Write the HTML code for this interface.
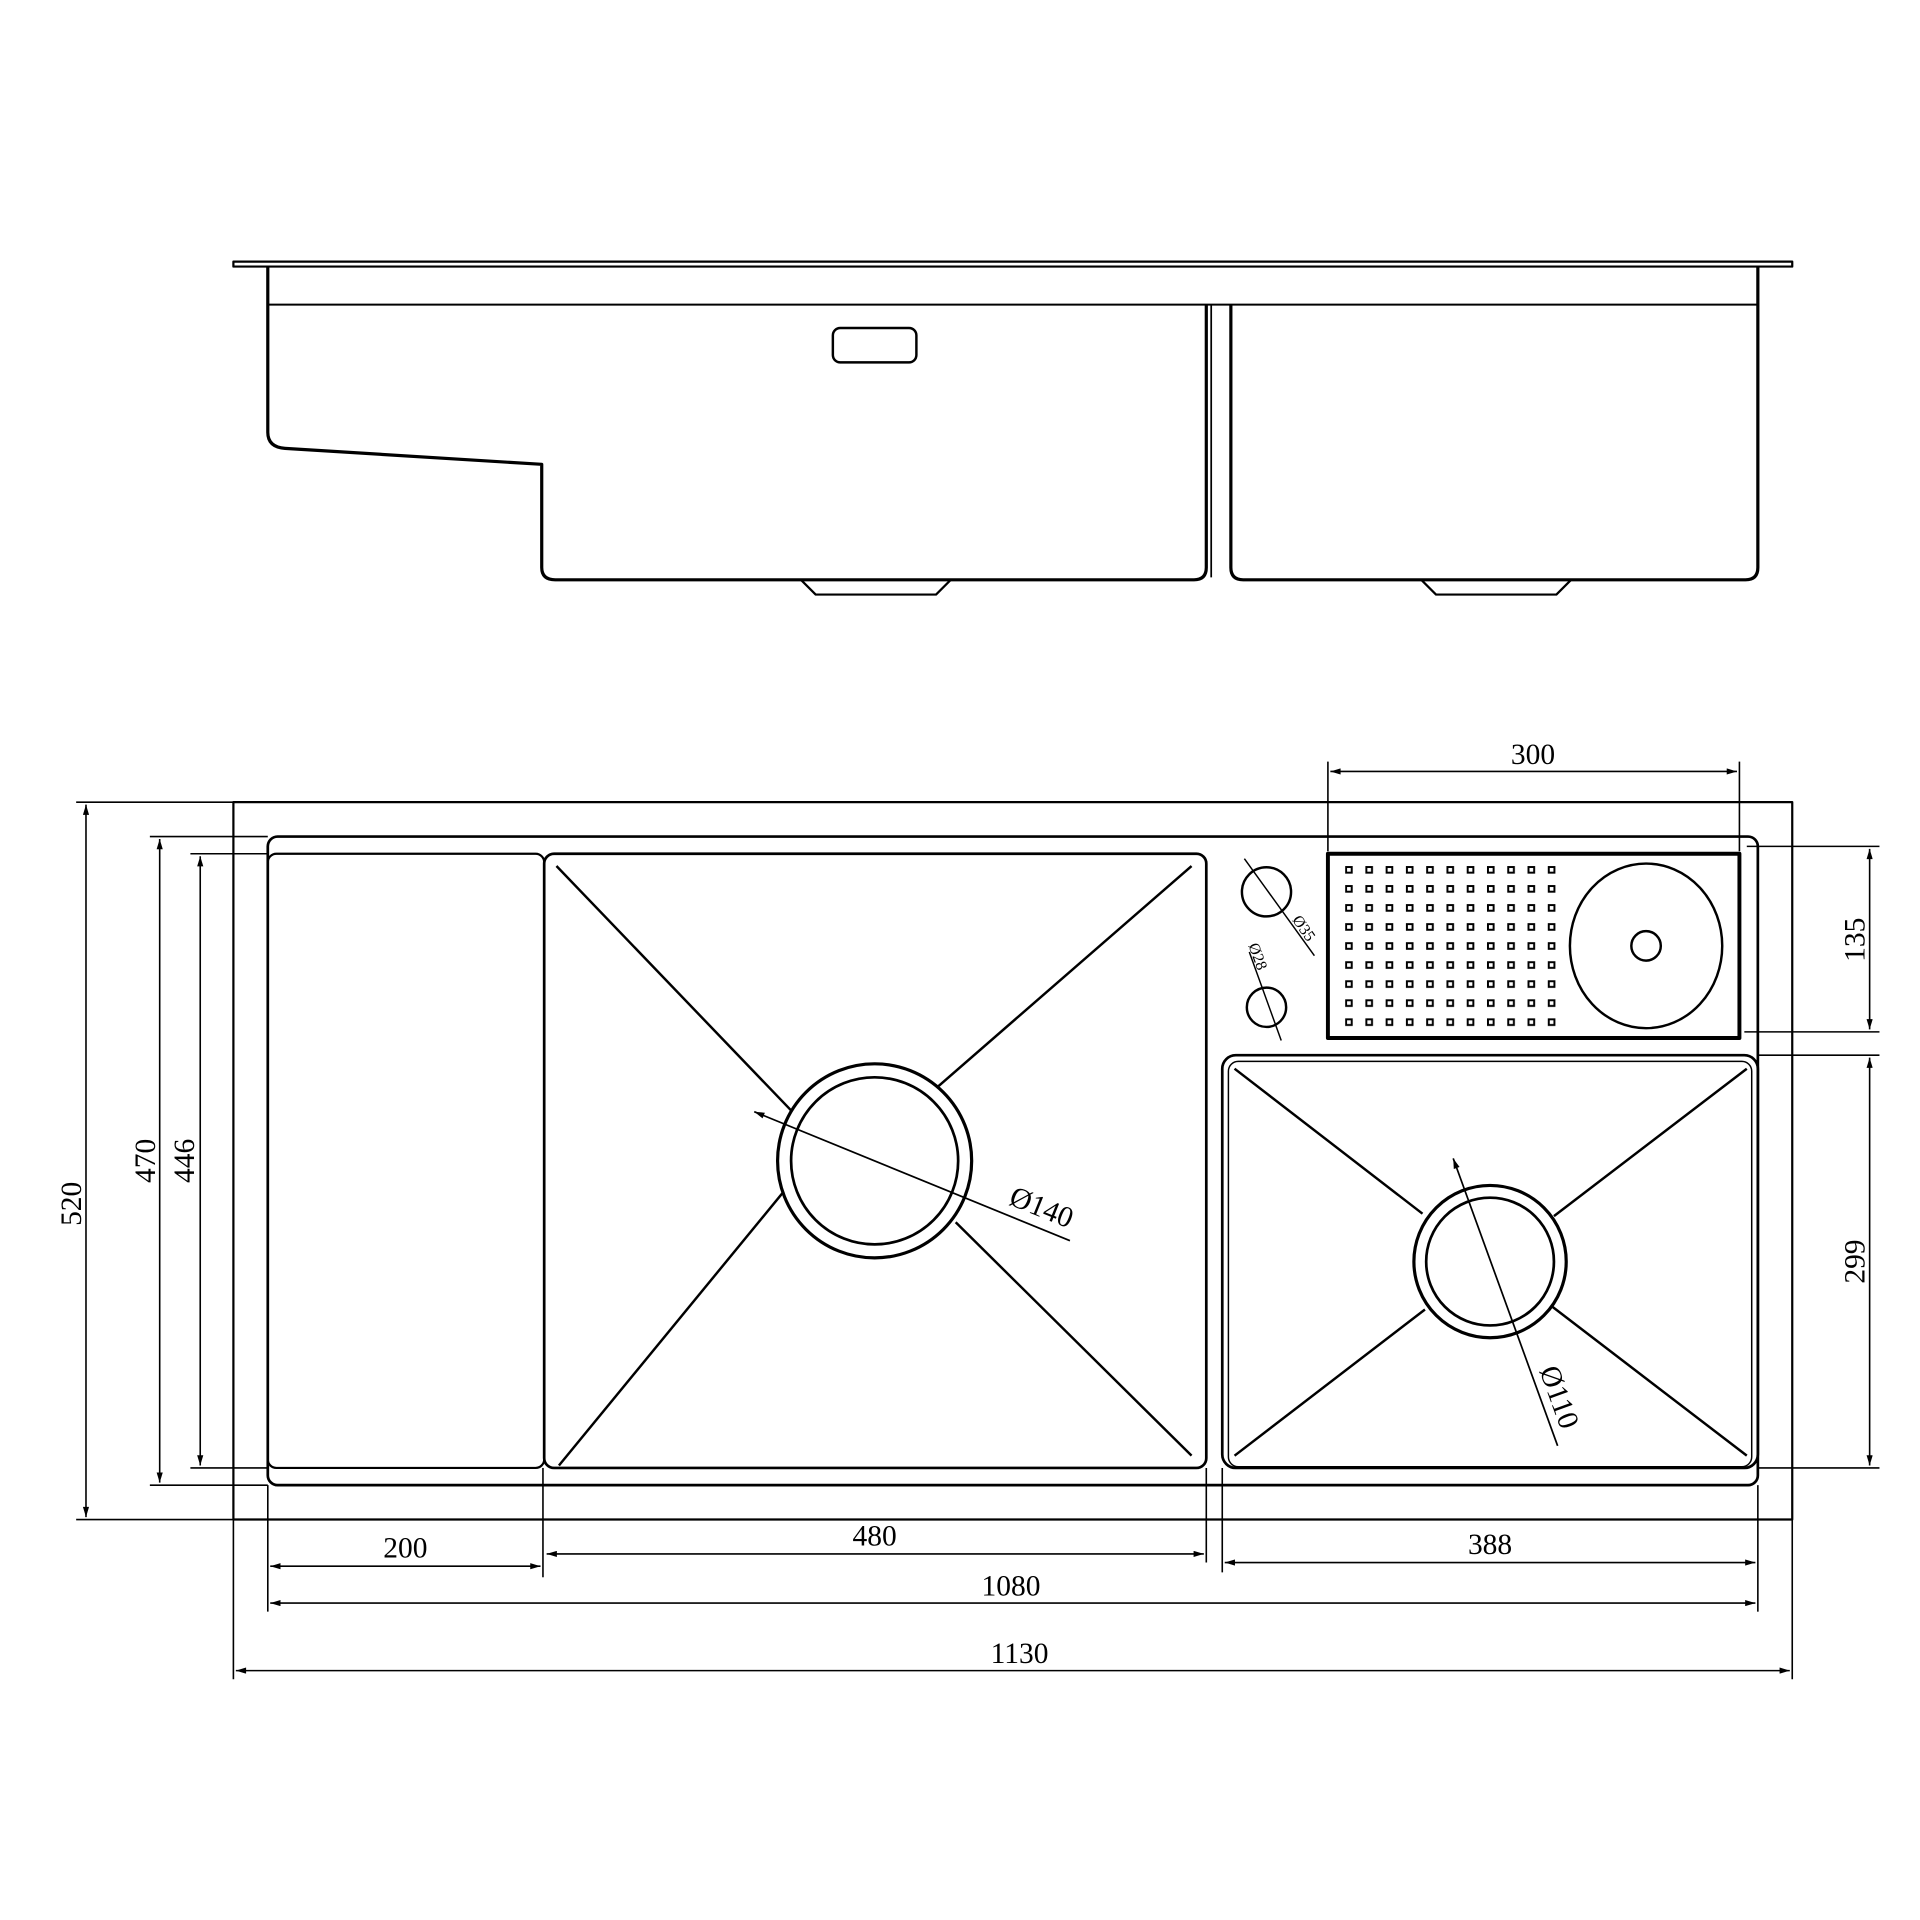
<!DOCTYPE html>
<html><head><meta charset="utf-8"><style>
html,body{margin:0;padding:0;background:#fff;}
svg{display:block;}
text{font-family:"Liberation Serif",serif;font-size:24px;fill:#000;}
</style></head><body>
<svg width="1920" height="1920" viewBox="0 0 1563 1563" xmlns="http://www.w3.org/2000/svg">
<defs>
<marker id="a" viewBox="0 0 10 6" refX="10" refY="3" markerWidth="9" markerHeight="5" orient="auto-start-reverse" markerUnits="userSpaceOnUse"><path d="M0,0 L10,3 L0,6z" fill="#000"/></marker>
<pattern id="dots" x="1095" y="705" width="16.5" height="15.5" patternUnits="userSpaceOnUse"><rect x="0.8" y="0.8" width="4.6" height="4.6" fill="none" stroke="#000" stroke-width="1.6"/></pattern>
</defs>
<g fill="none" stroke="#000" stroke-width="2" stroke-linejoin="round">
<!-- TOP VIEW -->
<rect x="190" y="213" width="1269" height="4" stroke-width="1.8"/>
<line x1="218" y1="248" x2="1431" y2="248" stroke-width="1.6"/>
<path d="M218,217 V352 Q218,364 232,365 L441,378 V462 Q441,472 452,472 H972 Q982,472 982,462 V248" stroke-width="2.6"/>
<path d="M1002,248 V462 Q1002,472 1012,472 H1421 Q1431,472 1431,462 V217" stroke-width="2.6"/>
<line x1="986" y1="248" x2="986" y2="470" stroke-width="1.4"/>
<rect x="678" y="267" width="68" height="28" rx="6" stroke-width="2"/>
<path d="M652,472 L664,484 H762 L774,472" stroke-width="1.8"/>
<path d="M1157,472 L1169,484 H1267 L1279,472" stroke-width="1.8"/>

<!-- PLAN VIEW -->
<rect x="190" y="653" width="1269" height="584" stroke-width="1.8"/>
<rect x="218" y="681" width="1213" height="528" rx="8" stroke-width="2.2"/>
<rect x="218" y="695" width="225" height="500" rx="7" stroke-width="1.8"/>
<rect x="443" y="695" width="539" height="500" rx="8" stroke-width="2.2"/>
<line x1="453" y1="705" x2="645" y2="905"/>
<line x1="970" y1="705" x2="763" y2="885"/>
<line x1="455" y1="1193" x2="638" y2="970"/>
<line x1="970" y1="1185" x2="778" y2="995"/>
<circle cx="712" cy="945" r="79" stroke-width="2.6"/>
<circle cx="712" cy="945" r="68" stroke-width="2.2"/>
<line x1="614" y1="905" x2="871" y2="1010" stroke-width="1.4" marker-start="url(#a)"/>

<rect x="995" y="859" width="436" height="336" rx="11" stroke-width="2.2"/>
<rect x="1000" y="864" width="426" height="330" rx="8" stroke-width="1.2"/>
<line x1="1005" y1="870" x2="1158" y2="988"/>
<line x1="1422" y1="870" x2="1265" y2="990"/>
<line x1="1005" y1="1185" x2="1160" y2="1066"/>
<line x1="1422" y1="1185" x2="1264" y2="1064"/>
<circle cx="1213" cy="1027" r="62" stroke-width="2.6"/>
<circle cx="1213" cy="1027" r="52" stroke-width="2.2"/>
<line x1="1183" y1="943" x2="1268" y2="1177" stroke-width="1.4" marker-start="url(#a)"/>

<circle cx="1031" cy="726" r="20" stroke-width="2"/>
<line x1="1013" y1="699" x2="1070" y2="778" stroke-width="1.2"/>
<circle cx="1031" cy="820" r="16" stroke-width="2"/>
<line x1="1017" y1="775" x2="1043" y2="847" stroke-width="1.2"/>

<rect x="1081" y="695" width="335" height="150" stroke-width="3.2"/>
<rect x="1095" y="705" width="181" height="139" fill="url(#dots)" stroke="none"/>
<ellipse cx="1340" cy="770" rx="62" ry="67" stroke-width="2"/>
<circle cx="1340" cy="770" r="12" stroke-width="2"/>
</g>

<!-- DIMENSIONS -->
<g fill="none" stroke="#000" stroke-width="1.3">
<line x1="1081" y1="620" x2="1081" y2="693"/><line x1="1416" y1="620" x2="1416" y2="693"/>
<line x1="1083" y1="628" x2="1414" y2="628" marker-start="url(#a)" marker-end="url(#a)"/>
<line x1="1422" y1="689" x2="1530" y2="689"/><line x1="1420" y1="840" x2="1530" y2="840"/>
<line x1="1522" y1="691" x2="1522" y2="838" marker-start="url(#a)" marker-end="url(#a)"/>
<line x1="1431" y1="859" x2="1530" y2="859"/><line x1="1431" y1="1195" x2="1530" y2="1195"/>
<line x1="1522" y1="861" x2="1522" y2="1193" marker-start="url(#a)" marker-end="url(#a)"/>
<line x1="62" y1="653" x2="190" y2="653"/><line x1="62" y1="1237" x2="190" y2="1237"/>
<line x1="70" y1="655" x2="70" y2="1235" marker-start="url(#a)" marker-end="url(#a)"/>
<line x1="122" y1="681" x2="218" y2="681"/><line x1="122" y1="1209" x2="218" y2="1209"/>
<line x1="130" y1="683" x2="130" y2="1207" marker-start="url(#a)" marker-end="url(#a)"/>
<line x1="155" y1="695" x2="218" y2="695"/><line x1="155" y1="1195" x2="218" y2="1195"/>
<line x1="163" y1="697" x2="163" y2="1193" marker-start="url(#a)" marker-end="url(#a)"/>
<line x1="218" y1="1209" x2="218" y2="1312"/><line x1="442" y1="1195" x2="442" y2="1284"/>
<line x1="982" y1="1195" x2="982" y2="1272"/><line x1="995" y1="1195" x2="995" y2="1280"/>
<line x1="1431" y1="1209" x2="1431" y2="1312"/>
<line x1="190" y1="1237" x2="190" y2="1367"/><line x1="1459" y1="1237" x2="1459" y2="1367"/>
<line x1="220" y1="1275" x2="440" y2="1275" marker-start="url(#a)" marker-end="url(#a)"/>
<line x1="445" y1="1265" x2="980" y2="1265" marker-start="url(#a)" marker-end="url(#a)"/>
<line x1="997" y1="1272" x2="1429" y2="1272" marker-start="url(#a)" marker-end="url(#a)"/>
<line x1="220" y1="1305" x2="1429" y2="1305" marker-start="url(#a)" marker-end="url(#a)"/>
<line x1="192" y1="1360" x2="1457" y2="1360" marker-start="url(#a)" marker-end="url(#a)"/>
</g>

<g>
<text x="1248" y="622" text-anchor="middle">300</text>
<text x="330" y="1268" text-anchor="middle">200</text>
<text x="712" y="1258" text-anchor="middle">480</text>
<text x="1213" y="1265" text-anchor="middle">388</text>
<text x="823" y="1299" text-anchor="middle">1080</text>
<text x="830" y="1354" text-anchor="middle">1130</text>
<text transform="translate(66,980) rotate(-90)" text-anchor="middle">520</text>
<text transform="translate(126,945) rotate(-90)" text-anchor="middle">470</text>
<text transform="translate(158,945) rotate(-90)" text-anchor="middle">446</text>
<text transform="translate(1518,765) rotate(-90)" text-anchor="middle">135</text>
<text transform="translate(1518,1027) rotate(-90)" text-anchor="middle">299</text>
<text transform="translate(845,990) rotate(22)" text-anchor="middle">Ø140</text>
<text transform="translate(1262,1140) rotate(70)" text-anchor="middle">Ø110</text>
<text transform="translate(1058,758) rotate(55)" text-anchor="middle" style="font-size:13px">Ø35</text>
<text transform="translate(1020,780) rotate(70)" text-anchor="middle" style="font-size:13px">Ø28</text>
</g>
</svg>
</body></html>
